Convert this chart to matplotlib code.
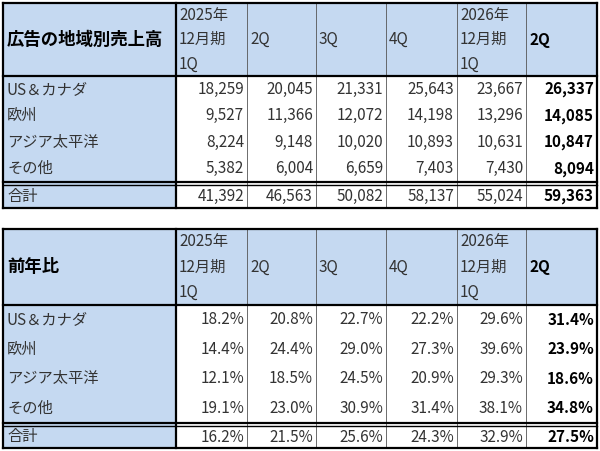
import matplotlib.pyplot as plt
from matplotlib.patches import Rectangle

plt.rcParams['font.family'] = ['Noto Sans CJK JP', 'DejaVu Sans']

col_headers = [["2025年", "12月期", "1Q"], ["2Q"], ["3Q"], ["4Q"], ["2026年", "12月期", "1Q"], ["2Q"]]
regions = ["US＆カナダ", "欧州", "アジア太平洋", "その他"]
total_label = "合計"

sales = [
    ["18,259", "20,045", "21,331", "25,643", "23,667", "26,337"],
    ["9,527", "11,366", "12,072", "14,198", "13,296", "14,085"],
    ["8,224", "9,148", "10,020", "10,893", "10,631", "10,847"],
    ["5,382", "6,004", "6,659", "7,403", "7,430", "8,094"],
]
sales_total = ["41,392", "46,563", "50,082", "58,137", "55,024", "59,363"]

yoy = [
    ["18.2%", "20.8%", "22.7%", "22.2%", "29.6%", "31.4%"],
    ["14.4%", "24.4%", "29.0%", "27.3%", "39.6%", "23.9%"],
    ["12.1%", "18.5%", "24.5%", "20.9%", "29.3%", "18.6%"],
    ["19.1%", "23.0%", "30.9%", "31.4%", "38.1%", "34.8%"],
]
yoy_total = ["16.2%", "21.5%", "25.6%", "24.3%", "32.9%", "27.5%"]

BLUE = "#c5d9f1"
xs = [3, 176, 247, 316, 386, 457, 526, 597]


def draw_table(ax, top, title, rows, total, head_h, row_h, total_h):
    y_head_end = top + head_h
    y_rows_end = y_head_end + row_h * len(rows)
    y_end = y_rows_end + total_h
    # backgrounds
    ax.add_patch(Rectangle((xs[0], top), xs[-1] - xs[0], head_h, color=BLUE, lw=0))
    ax.add_patch(Rectangle((xs[0], top), xs[1] - xs[0], y_end - top, color=BLUE, lw=0))
    # thin vertical lines
    for x in xs[2:-1]:
        ax.plot([x, x], [top, y_end], color="#555555", lw=0.6)
    # thick lines
    for x in [xs[0], xs[1], xs[-1]]:
        ax.plot([x, x], [top, y_end], color="black", lw=1.6)
    for y in [top, y_head_end, y_rows_end, y_end]:
        ax.plot([xs[0], xs[-1]], [y, y], color="black", lw=1.6)
    ax.plot([xs[0], xs[-1]], [y_rows_end + 2.5, y_rows_end + 2.5], color="black", lw=1.0)
    # title
    ax.text(xs[0] + 4, top + head_h / 2, title, fontsize=12.5, fontweight="bold", va="center", ha="left")
    # column headers
    step = head_h / 3
    for i, h in enumerate(col_headers):
        bold = i == len(col_headers) - 1
        if len(h) == 3:
            for k, line in enumerate(h):
                ax.text(xs[i + 1] + 3, top + step * (k + 0.5), line, fontsize=11, va="center", ha="left",
                        color="#333333")
        else:
            ax.text(xs[i + 1] + 3, top + head_h / 2, h[0], fontsize=11, va="center", ha="left",
                    fontweight="bold" if bold else "normal", color="black" if bold else "#333333")
    # body
    labels = regions + [total_label]
    for r, vals in enumerate(rows + [total]):
        if r < len(rows):
            yc = y_head_end + row_h * (r + 0.5)
        else:
            yc = y_rows_end + 1.5 + total_h / 2
        ax.text(xs[0] + 4, yc, labels[r], fontsize=11, va="center", ha="left", color="#333333")
        for i, v in enumerate(vals):
            bold = i == len(vals) - 1
            ax.text(xs[i + 2] - 3, yc, v, fontsize=11, va="center", ha="right",
                    fontweight="bold" if bold else "normal", color="black" if bold else "#333333")


fig = plt.figure(figsize=(6, 4.51), dpi=100)
ax = fig.add_axes([0, 0, 1, 1])
ax.set_xlim(0, 600)
ax.set_ylim(451, 0)
ax.axis("off")

draw_table(ax, 3, "広告の地域別売上高", sales, sales_total, 73, 26.5, 26)
draw_table(ax, 229, "前年比", yoy, yoy_total, 76, 29.5, 25)

fig.savefig("out.png", dpi=100)
